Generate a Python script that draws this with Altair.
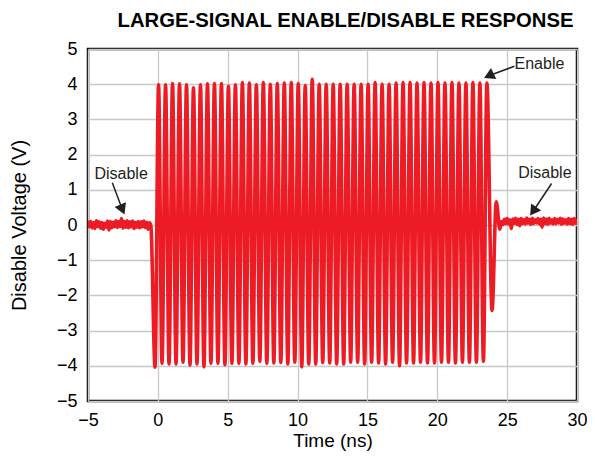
import altair as alt
import pandas as pd

# ---- data ----
# disabled output before enable (noise band), time in ns
left_t = [-5.0, -4.9, -4.8, -4.7, -4.6, -4.5, -4.4, -4.3, -4.2, -4.1,
          -4.0, -3.9, -3.8, -3.7, -3.6, -3.5, -3.4, -3.3, -3.2, -3.1,
          -3.0, -2.9, -2.8, -2.7, -2.6, -2.5, -2.4, -2.3, -2.2, -2.1,
          -2.0, -1.9, -1.8, -1.7, -1.6, -1.5, -1.4, -1.3, -1.2, -1.1,
          -1.0, -0.9, -0.8, -0.7, -0.6, -0.5]
left_v = [0.08, -0.05, 0.10, -0.08, 0.06, -0.10, 0.12, -0.04, 0.09, -0.09,
          0.07, -0.12, 0.05, -0.06, 0.11, -0.14, 0.10, -0.08, 0.08, -0.05,
          0.12, -0.07, 0.10, -0.04, 0.18, -0.09, 0.10, -0.06, 0.12, -0.08,
          0.09, -0.05, 0.11, -0.10, 0.07, -0.06, 0.10, -0.08, 0.09, -0.05,
          0.11, -0.07, 0.08, -0.12, 0.06, -0.02]

# enabled: 48 troughs and 48 peaks of the large-signal output
trough_t = [-0.2, 0.3, 0.8, 1.3, 1.8, 2.3, 2.8, 3.3, 3.8, 4.3,
            4.8, 5.3, 5.8, 6.3, 6.8, 7.3, 7.8, 8.3, 8.8, 9.3,
            9.8, 10.3, 10.8, 11.3, 11.8, 12.3, 12.8, 13.3, 13.8, 14.3,
            14.8, 15.3, 15.8, 16.3, 16.8, 17.3, 17.8, 18.3, 18.8, 19.3,
            19.8, 20.3, 20.8, 21.3, 21.8, 22.3, 22.8, 23.3]
trough_v = [-4.04, -3.93, -3.95, -3.95, -3.90, -3.98, -3.95, -4.03, -3.93, -3.93,
            -3.97, -3.93, -3.93, -3.95, -3.93, -3.87, -3.93, -3.92, -3.91, -3.95,
            -3.90, -4.03, -3.95, -3.95, -3.91, -3.92, -3.95, -3.95, -3.90, -3.90,
            -3.95, -3.90, -3.92, -3.95, -3.90, -4.00, -3.92, -3.92, -3.90, -3.92,
            -3.92, -3.90, -3.90, -3.92, -3.90, -3.90, -3.90, -3.87]
peak_t = [0.05, 0.55, 1.05, 1.55, 2.05, 2.55, 3.05, 3.55, 4.05, 4.55,
          5.05, 5.55, 6.05, 6.55, 7.05, 7.55, 8.05, 8.55, 9.05, 9.55,
          10.05, 10.55, 11.05, 11.55, 12.05, 12.55, 13.05, 13.55, 14.05, 14.55,
          15.05, 15.55, 16.05, 16.55, 17.05, 17.55, 18.05, 18.55, 19.05, 19.55,
          20.05, 20.55, 21.05, 21.55, 22.05, 22.55, 23.05, 23.55]
peak_v = [3.98, 3.98, 4.02, 4.01, 3.98, 3.90, 3.98, 4.01, 4.02, 4.02,
          3.94, 3.98, 4.05, 4.03, 3.98, 4.05, 4.00, 4.02, 4.03, 4.05,
          4.02, 3.96, 4.14, 4.00, 4.00, 4.00, 4.00, 4.00, 4.00, 4.00,
          4.00, 4.05, 4.00, 4.00, 4.03, 4.05, 4.05, 4.03, 4.05, 4.03,
          4.05, 4.03, 4.05, 4.03, 4.03, 4.05, 4.03, 4.03]

# ringing at disable
ring_t = [23.92, 24.22, 24.48]
ring_v = [-2.43, 0.66, -0.12]

# disabled output after (noise band)
right_t = [24.6, 24.7, 24.8, 24.9, 25.0, 25.1, 25.2, 25.3, 25.4, 25.5,
           25.6, 25.7, 25.8, 25.9, 26.0, 26.1, 26.2, 26.3, 26.4, 26.5,
           26.6, 26.7, 26.8, 26.9, 27.0, 27.1, 27.2, 27.3, 27.4, 27.5,
           27.6, 27.7, 27.8, 27.9, 28.0, 28.1, 28.2, 28.3, 28.4, 28.5,
           28.6, 28.7, 28.8, 28.9, 29.0, 29.1, 29.2, 29.3, 29.4, 29.5,
           29.6, 29.7, 29.8, 29.9, 30.0]
right_v = [0.10, 0.02, 0.16, 0.04, 0.18, 0.03, 0.15, -0.10, 0.17, 0.05,
           0.19, 0.02, 0.16, -0.02, 0.18, 0.04, 0.15, 0.03, 0.20, 0.05,
           0.16, 0.02, 0.19, 0.04, 0.15, 0.06, 0.18, 0.03, 0.16, -0.06,
           0.20, 0.04, 0.17, 0.02, 0.19, 0.05, 0.15, 0.03, 0.18, 0.04,
           0.16, 0.06, 0.19, 0.02, 0.17, 0.05, 0.15, 0.03, 0.18, 0.04,
           0.16, 0.02, 0.18, 0.05, 0.12]

# annotations
label_text = ["Disable", "Enable", "Disable"]
label_t = [-2.63, 27.31, 27.7]
label_v = [1.46, 4.56, 1.49]
arrow_t0 = [-3.26, 25.52, 28.18]
arrow_v0 = [1.20, 4.51, 1.18]
arrow_t1 = [-2.54, 23.69, 26.86]
arrow_v1 = [0.44, 4.24, 0.39]
arrow_angle = [157, 245, 215]

x_ticks = [-5, 0, 5, 10, 15, 20, 25, 30]
y_ticks = [-5, -4, -3, -2, -1, 0, 1, 2, 3, 4, 5]

# ---- build table ----
ext_t, ext_v = [], []
for a, b, c, d in zip(trough_t, trough_v, peak_t, peak_v):
    ext_t += [a, c]
    ext_v += [b, d]
wave = pd.DataFrame({
    "t": left_t + ext_t + ring_t + right_t,
    "v": left_v + ext_v + ring_v + right_v,
})
ann = pd.DataFrame({
    "label": label_text, "lt": label_t, "lv": label_v,
    "t0": arrow_t0, "v0": arrow_v0, "t1": arrow_t1, "v1": arrow_v1,
    "ang": arrow_angle,
})

FONT = "Liberation Sans"
RED = "#ed1c24"
INK = "#231f20"

xscale = alt.Scale(domain=[-5, 30], nice=False, zero=False)
yscale = alt.Scale(domain=[-5, 5], nice=False, zero=False)

line = alt.Chart(wave).mark_line(
    color=RED, strokeWidth=3.6, interpolate="monotone", strokeJoin="round",
    strokeCap="round", clip=True
).encode(
    x=alt.X("t:Q", scale=xscale, title="Time (ns)",
            axis=alt.Axis(values=x_ticks, tickCount=len(x_ticks), format="d",
                          labelPadding=10, titlePadding=2, titleFontSize=19)),
    y=alt.Y("v:Q", scale=yscale, title="Disable Voltage (V)",
            axis=alt.Axis(values=y_ticks, tickCount=len(y_ticks), format="d",
                          labelPadding=11, titlePadding=27, titleFontSize=20)),
    order="t:Q",
)

shafts = alt.Chart(ann).mark_rule(color=INK, strokeWidth=1.5).encode(
    x="t0:Q", y="v0:Q", x2="t1:Q", y2="v1:Q"
)
heads = alt.Chart(ann).mark_point(
    shape="triangle-up", filled=True, color=INK, size=150, opacity=1
).encode(
    x="t1:Q", y="v1:Q", angle=alt.Angle("ang:Q", scale=None)
)
labels = alt.Chart(ann).mark_text(
    font=FONT, fontSize=16, color=INK, baseline="middle", align="center"
).encode(x="lt:Q", y="lv:Q", text="label:N")

chart = alt.layer(line, shafts, heads, labels).properties(
    width=489, height=352,
    autosize=alt.AutoSizeParams(type="none"),
    padding={"left": 80, "top": 41, "right": 10, "bottom": 50},
    title=alt.Title("LARGE-SIGNAL ENABLE/DISABLE RESPONSE", font=FONT, fontSize=20.3,
                    fontWeight="bold", color="black", anchor="middle", offset=9, dx=13),
).configure_view(
    stroke="black", strokeWidth=2.5
).configure_axis(
    grid=True, gridColor="#c8c8c8", gridWidth=1.3, domain=False, ticks=False,
    labelFlush=False, labelOverlap=False,
    labelFont=FONT, labelFontSize=18, labelColor="black",
    titleFont=FONT, titleFontWeight="normal", titleColor="black",
)

chart.save("out.html", embed_options={"renderer": "svg", "actions": False})
